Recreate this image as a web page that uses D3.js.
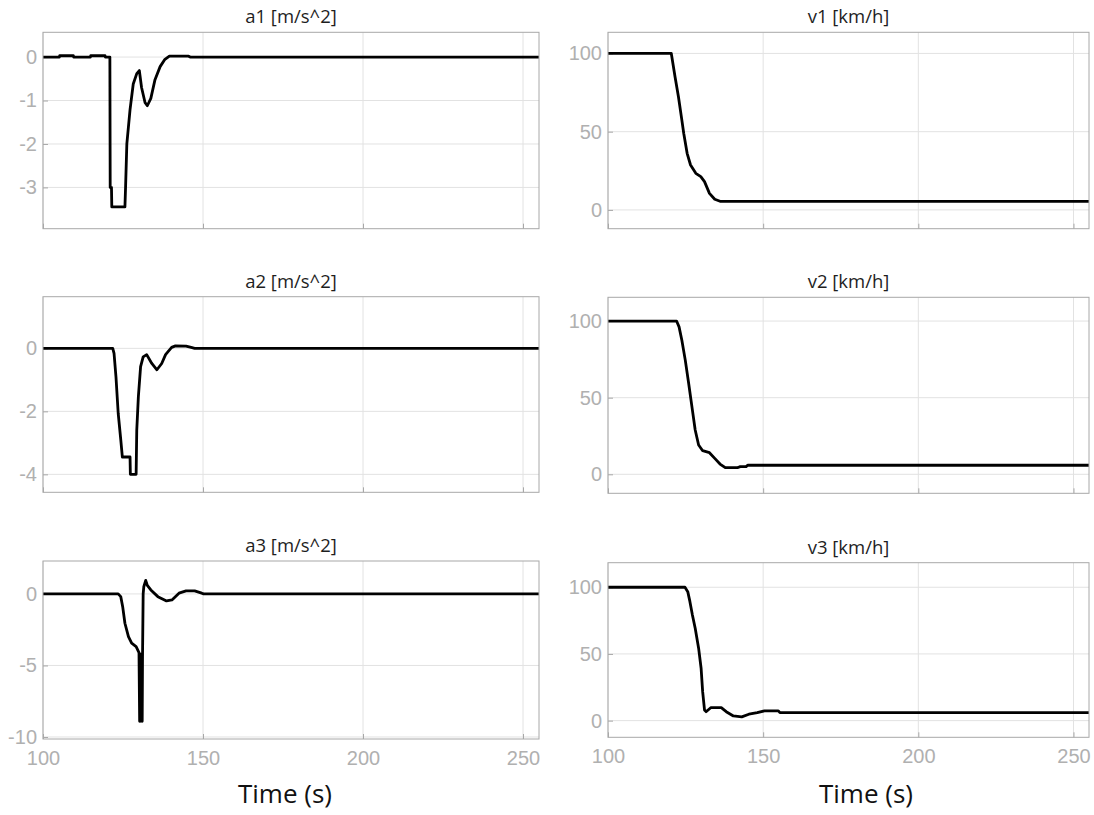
<!DOCTYPE html>
<html>
<head>
<meta charset="utf-8">
<script src="https://cdn.jsdelivr.net/npm/d3@7"></script>
<style>
  html, body { margin: 0; padding: 0; background: #fff; }
  svg { display: block; }
  .tick-label { font-family: "Liberation Sans", Arial, sans-serif; font-size: 20px; fill: #b0b0b0; }
  .panel-title { font-family: "Open Sans", sans-serif; font-size: 18.5px; fill: #1e1e1e; }
  .x-title { font-family: "Open Sans", sans-serif; font-size: 26px; fill: #111; }
</style>
</head>
<body>
<svg id="chart" width="1094" height="815"></svg>
<script>
// time axis
const xTicks = [100, 150, 200, 250]

// a1 [m/s^2]
const a1Time = [100, 105.1, 105.2, 109.5, 109.6, 114.8, 114.9, 119.4, 119.5, 120.9, 121.0, 121.4, 121.5, 125.6, 125.8, 126.2, 127.2, 128.2, 129.3, 130.1, 130.8, 131.9, 132.6, 133.7, 135.0, 136.6, 138.0, 139.5, 145.5, 146.0, 255]
const a1Value = [0, 0, 0.03, 0.03, 0, 0, 0.03, 0.03, 0, 0, -3.0, -3.0, -3.45, -3.45, -3.0, -2.0, -1.21, -0.62, -0.38, -0.31, -0.7, -1.05, -1.12, -0.95, -0.52, -0.22, -0.06, 0.02, 0.02, 0, 0]

// a2 [m/s^2]
const a2Time = [100, 121.8, 122.2, 122.8, 123.5, 124.3, 124.8, 127.2, 127.3, 129.1, 129.3, 129.8, 130.5, 131.3, 132.4, 134.0, 135.6, 137.1, 138.3, 140.2, 141.4, 144.7, 146.3, 147.4, 255]
const a2Value = [0, 0, -0.16, -0.9, -2.06, -2.9, -3.45, -3.45, -4.0, -4.0, -2.6, -1.54, -0.58, -0.27, -0.2, -0.48, -0.68, -0.48, -0.2, 0.03, 0.08, 0.07, 0.03, 0, 0]

// a3 [m/s^2]
const a3Time = [100, 123.5, 124.3, 124.9, 125.6, 126.7, 127.7, 129.1, 130.0, 130.2, 130.4, 130.6, 130.8, 131.0, 131.1, 131.3, 131.5, 132.1, 132.6, 133.7, 135.9, 138.6, 140.3, 142.5, 144.7, 147.4, 149.6, 150.2, 255]
const a3Value = [0, 0, -0.19, -0.89, -2.05, -2.98, -3.44, -3.68, -4.1, -8.9, -4.3, -8.9, -4.2, -8.9, -4.4, 0.0, 0.5, 0.95, 0.6, 0.28, -0.19, -0.49, -0.42, 0.05, 0.21, 0.21, 0.05, 0, 0]

// v1 [km/h]
const v1Time = [100, 120.4, 121.6, 122.7, 123.8, 124.4, 125.5, 126.6, 128.3, 129.9, 131.1, 132.7, 134.4, 136.1, 255]
const v1Value = [100, 100, 85.1, 72.3, 57.4, 49, 36.2, 28.7, 23.4, 21.3, 18.1, 10.6, 6.8, 5.5, 5.5]

// v2 [km/h]
const v2Time = [100, 122.1, 122.9, 123.8, 124.9, 126.0, 127.2, 128.1, 129.2, 130.5, 132.7, 134.4, 136.1, 137.8, 141.7, 142.6, 144.5, 145.0, 255]
const v2Value = [100, 100, 96.2, 87.5, 74.5, 59.3, 41.9, 28.9, 19.1, 15.4, 14.1, 10.4, 6.7, 4.3, 4.3, 5.0, 5.0, 5.9, 5.9]

// v3 [km/h]
const v3Time = [100, 124.8, 125.7, 126.4, 127.2, 128.1, 129.2, 130.0, 130.5, 131.1, 131.6, 133.1, 136.5, 138.1, 140.4, 143.1, 145.4, 148.1, 150.4, 154.9, 155.4, 255]
const v3Value = [100, 100, 96.7, 89.2, 79.2, 69.3, 54.3, 39.3, 21.7, 8.0, 6.7, 9.7, 9.7, 6.7, 3.5, 2.8, 4.8, 6.0, 7.3, 7.3, 6.0, 6.0]

const aTicks1 = [0, -1, -2, -3]
const aTicks2 = [0, -2, -4]
const aTicks3 = [0, -5, -10]
const vTicks = [0, 50, 100]

const panels = [
  { title: 'a1 [m/s^2]', t: a1Time, v: a1Value, yDomain: [-3.95, 0.57], yTicks: aTicks1, left: 43, right: 539, top: 32.3, bottom: 228.7, xLabels: false },
  { title: 'v1 [km/h]', t: v1Time, v: v1Value, yDomain: [-12, 113.5], yTicks: vTicks, left: 608, right: 1089, top: 32.3, bottom: 228.7, xLabels: false },
  { title: 'a2 [m/s^2]', t: a2Time, v: a2Value, yDomain: [-4.57, 1.64], yTicks: aTicks2, left: 43, right: 539, top: 296.7, bottom: 492.3, xLabels: false },
  { title: 'v2 [km/h]', t: v2Time, v: v2Value, yDomain: [-12.4, 115.5], yTicks: vTicks, left: 608, right: 1089, top: 297.3, bottom: 493.3, xLabels: false },
  { title: 'a3 [m/s^2]', t: a3Time, v: a3Value, yDomain: [-10.14, 2.3], yTicks: aTicks3, left: 43, right: 539, top: 561, bottom: 739, xLabels: true, xTitleX: 285 },
  { title: 'v3 [km/h]', t: v3Time, v: v3Value, yDomain: [-12.5, 118.4], yTicks: vTicks, left: 608, right: 1089, top: 562.7, bottom: 737.3, xLabels: true, xTitleX: 866 }
]

// plain hyphen minus, like the original plot
const fmt = d => String(d)

const svg = d3.select('#chart')

function styleLabels(sel) {
  sel.selectAll('.tick text')
    .attr('class', 'tick-label')
    .attr('fill', null)
}

for (const p of panels) {
  const x = d3.scaleLinear().domain([100, 255]).range([p.left, p.right])
  const y = d3.scaleLinear().domain(p.yDomain).range([p.bottom, p.top])
  const g = svg.append('g')

  // grid
  g.append('g').selectAll('line').data(xTicks).enter().append('line')
    .attr('x1', d => x(d)).attr('x2', d => x(d))
    .attr('y1', p.top).attr('y2', p.bottom)
    .attr('stroke', '#e2e2e2').attr('stroke-width', 1)
  g.append('g').selectAll('line').data(p.yTicks).enter().append('line')
    .attr('x1', p.left).attr('x2', p.right)
    .attr('y1', d => y(d)).attr('y2', d => y(d))
    .attr('stroke', '#e2e2e2').attr('stroke-width', 1)

  // inner tick marks + labels
  const yg = g.append('g')
    .attr('transform', `translate(${p.left},0)`)
    .call(d3.axisLeft(y).tickValues(p.yTicks).tickFormat(fmt).tickSize(-5).tickPadding(6))
  yg.attr('font-size', null).attr('font-family', null)
  yg.select('.domain').remove()
  yg.selectAll('.tick line').attr('stroke', '#a8a8a8')
  styleLabels(yg)

  const xg = g.append('g')
    .attr('transform', `translate(0,${p.bottom})`)
    .call(d3.axisBottom(x).tickValues(xTicks).tickFormat(fmt).tickSize(-5).tickPadding(12))
  xg.attr('font-size', null).attr('font-family', null)
  xg.select('.domain').remove()
  xg.selectAll('.tick line').attr('stroke', '#a8a8a8')
  if (p.xLabels) styleLabels(xg)
  else xg.selectAll('.tick text').remove()

  // data line
  const pts = p.t.map((t, i) => [t, p.v[i]])
  g.append('path')
    .datum(pts)
    .attr('fill', 'none')
    .attr('stroke', '#000')
    .attr('stroke-width', 2.8)
    .attr('stroke-linejoin', 'round')
    .attr('d', d3.line().x(d => x(d[0])).y(d => y(d[1])))

  // box
  g.append('rect')
    .attr('x', p.left).attr('y', p.top)
    .attr('width', p.right - p.left).attr('height', p.bottom - p.top)
    .attr('fill', 'none').attr('stroke', '#a8a8a8').attr('stroke-width', 1)

  g.append('text')
    .attr('class', 'panel-title')
    .attr('x', (p.left + p.right) / 2)
    .attr('y', p.top - 9)
    .attr('text-anchor', 'middle')
    .text(p.title)

  if (p.xLabels) {
    g.append('text')
      .attr('class', 'x-title')
      .attr('x', p.xTitleX)
      .attr('y', 803)
      .attr('text-anchor', 'middle')
      .text('Time (s)')
  }
}
</script>
</body>
</html>
